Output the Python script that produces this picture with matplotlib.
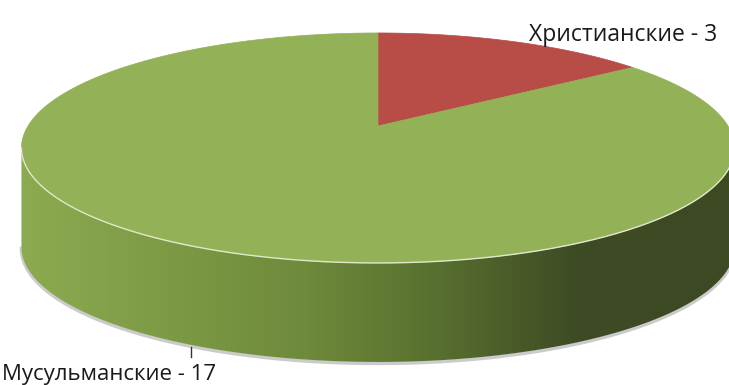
import matplotlib
matplotlib.use("Agg")
import matplotlib.pyplot as plt
import numpy as np
from matplotlib.colors import LinearSegmentedColormap
from matplotlib.patches import Polygon

# data
labels = ["Христианские", "Мусульманские"]
values = [3, 17]
colors = ["#b84c47", "#93b156"]

W, H = 729, 385
fig = plt.figure(figsize=(W / 100, H / 100), dpi=100)
ax = fig.add_axes([0, 0, 1, 1])
ax.set_xlim(0, W)
ax.set_ylim(H, 0)
ax.axis("off")

# perspective disk -> screen (homography)
apex_x, apex_y = 378, 126
a, b0, k = 350, 110.8, 0.191
depth = 99


def proj(theta):
    s = 1 + k * np.sin(theta)
    return apex_x + a * np.cos(theta) / s, apex_y - b0 * np.sin(theta) / s


# side (front part between the silhouette points)
t0 = np.pi + np.arcsin(k)
t1 = 2 * np.pi - np.arcsin(k)
ts = np.linspace(t0, t1, 300)
sx, sy = proj(ts)
side = np.column_stack([np.r_[sx, sx[::-1]], np.r_[sy, sy[::-1] + depth]])

# faint shadow under the side
ax.plot(sx, sy + depth + 1.5, color="#999999", lw=2.5, alpha=0.5, zorder=1)

cmap = LinearSegmentedColormap.from_list(
    "side", [(0, "#8cab50"), (0.4, "#6e8a3b"), (0.58, "#58702f"),
             (0.78, "#3e4b24"), (1, "#3d4923")])
grad = np.linspace(0, 1, 512)[None, :]
im = ax.imshow(grad, cmap=cmap, extent=[sx.min(), sx.max(), sy.max() + depth, sy.min()],
               aspect="auto", zorder=2)
clip = Polygon(side, closed=True, facecolor="none", edgecolor="none")
ax.add_patch(clip)
im.set_clip_path(clip)

# top face wedges, starting at 12 o'clock, clockwise
total = sum(values)
start = np.pi / 2
for v, c in zip(values, colors):
    end = start - 2 * np.pi * v / total
    th = np.linspace(start, end, 300)
    px, py = proj(th)
    poly = np.column_stack([np.r_[apex_x, px], np.r_[apex_y, py]])
    ax.add_patch(Polygon(poly, closed=True, facecolor=c, edgecolor=c, lw=0.5, zorder=3))
    start = end

# light rim along the front edge of the top
ax.plot(sx, sy, color="#dfe8cc", lw=1.0, zorder=4)

# labels
ax.text(717, 41, f"{labels[0]} - {values[0]}", ha="right", va="baseline",
        fontsize=16.5, family="Open Sans", color="#1a1a1a", zorder=5)
ax.text(2, 380, f"{labels[1]} - {values[1]}", ha="left", va="baseline",
        fontsize=16, family="Open Sans", color="#1a1a1a", zorder=5)
ax.plot([191, 191], [347, 357], color="#333333", lw=1, zorder=5)

fig.savefig("out.png", dpi=100)
